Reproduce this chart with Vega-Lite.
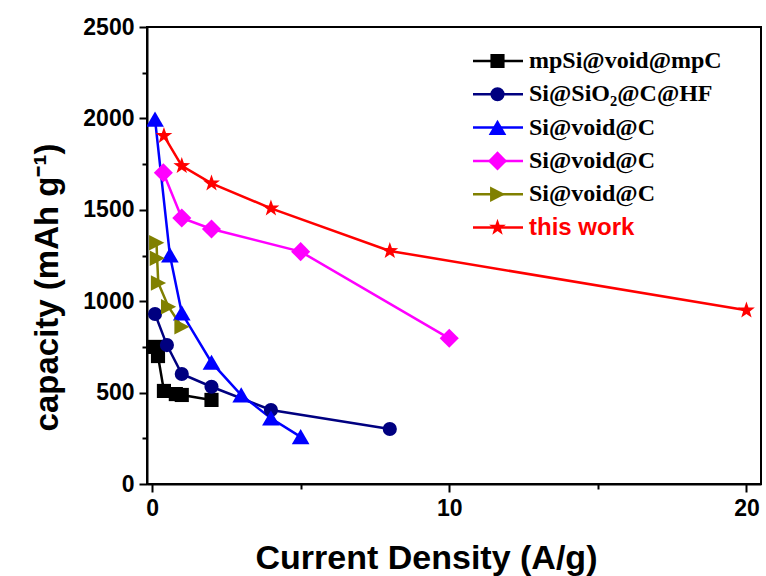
{
  "$schema": "https://vega.github.io/schema/vega-lite/v6.json",
  "width": 614,
  "height": 457,
  "autosize": {"type": "none"},
  "padding": {"left": 147, "top": 27, "right": 5, "bottom": 92},
  "background": "white",
  "config": {
    "view": {"stroke": "black", "strokeWidth": 2},
    "font": "Liberation Sans"
  },
  "data": {
    "values": [
      {"series": "1 \u00a0mpSi@void@mpC", "density": 0.1, "capacity": 750},
      {"series": "1 \u00a0mpSi@void@mpC", "density": 0.2, "capacity": 700},
      {"series": "1 \u00a0mpSi@void@mpC", "density": 0.4, "capacity": 509},
      {"series": "1 \u00a0mpSi@void@mpC", "density": 0.8, "capacity": 492},
      {"series": "1 \u00a0mpSi@void@mpC", "density": 1.0, "capacity": 487},
      {"series": "1 \u00a0mpSi@void@mpC", "density": 2.0, "capacity": 460},
      {"series": "2 Si@SiO₂@C@HF", "density": 0.1, "capacity": 930},
      {"series": "2 Si@SiO₂@C@HF", "density": 0.5, "capacity": 760},
      {"series": "2 Si@SiO₂@C@HF", "density": 1.0, "capacity": 602},
      {"series": "2 Si@SiO₂@C@HF", "density": 2.0, "capacity": 532},
      {"series": "2 Si@SiO₂@C@HF", "density": 4.0, "capacity": 405},
      {"series": "2 Si@SiO₂@C@HF", "density": 8.0, "capacity": 301},
      {"series": "3 Si@void@C", "density": 0.1, "capacity": 1995},
      {"series": "3 Si@void@C", "density": 0.6, "capacity": 1252},
      {"series": "3 Si@void@C", "density": 1.0, "capacity": 935},
      {"series": "3 Si@void@C", "density": 2.0, "capacity": 665},
      {"series": "3 Si@void@C", "density": 3.0, "capacity": 487},
      {"series": "3 Si@void@C", "density": 4.0, "capacity": 360},
      {"series": "3 Si@void@C", "density": 5.0, "capacity": 258},
      {"series": "4 Si@void@C", "density": 0.38, "capacity": 1703},
      {"series": "4 Si@void@C", "density": 1.0, "capacity": 1455},
      {"series": "4 Si@void@C", "density": 2.0, "capacity": 1395},
      {"series": "4 Si@void@C", "density": 5.0, "capacity": 1271},
      {"series": "4 Si@void@C", "density": 10.0, "capacity": 797},
      {"series": "5 Si@void@C", "density": 0.15, "capacity": 1320},
      {"series": "5 Si@void@C", "density": 0.17, "capacity": 1235},
      {"series": "5 Si@void@C", "density": 0.21, "capacity": 1100},
      {"series": "5 Si@void@C", "density": 0.55, "capacity": 970},
      {"series": "5 Si@void@C", "density": 1.0, "capacity": 860},
      {"series": "6 this work", "density": 0.4, "capacity": 1905},
      {"series": "6 this work", "density": 1.0, "capacity": 1740},
      {"series": "6 this work", "density": 2.0, "capacity": 1645},
      {"series": "6 this work", "density": 4.0, "capacity": 1508},
      {"series": "6 this work", "density": 8.0, "capacity": 1275},
      {"series": "6 this work", "density": 20.0, "capacity": 950}
    ]
  },
  "encoding": {
    "x": {
      "field": "density",
      "type": "quantitative",
      "scale": {"domain": [-0.17, 20.49], "nice": false, "zero": false},
      "axis": {
        "title": "Current Density (A/g)",
        "values": [0, 5, 10, 15, 20],
        "labelExpr": "datum.value % 10 == 0 ? datum.label : ''",
        "grid": false,
        "domainColor": "black",
        "domainWidth": 2,
        "tickColor": "black",
        "tickWidth": 2,
        "tickSize": {"condition": {"test": "datum.value % 10 != 0", "value": 5}, "value": 8},
        "labelFont": "Liberation Sans",
        "labelFontWeight": "bold",
        "labelFontSize": 23,
        "labelColor": "black",
        "labelPadding": 5,
        "labelFlush": false,
        "labelOverlap": false,
        "titleFont": "Liberation Sans",
        "titleFontWeight": "bold",
        "titleFontSize": 34,
        "titleColor": "black",
        "titleX": 279,
        "titleY": 84,
        "titleBaseline": "alphabetic"
      }
    },
    "y": {
      "field": "capacity",
      "type": "quantitative",
      "scale": {"domain": [0, 2500], "nice": false},
      "axis": {
        "title": "capacity (mAh g⁻¹)",
        "values": [0, 250, 500, 750, 1000, 1250, 1500, 1750, 2000, 2250, 2500],
        "labelExpr": "datum.value % 500 == 0 ? datum.label : ''",
        "format": "d",
        "grid": false,
        "domainColor": "black",
        "domainWidth": 2,
        "tickColor": "black",
        "tickWidth": 2,
        "tickSize": {"condition": {"test": "datum.value % 500 != 0", "value": 5}, "value": 8},
        "labelFont": "Liberation Sans",
        "labelFontWeight": "bold",
        "labelFontSize": 23,
        "labelColor": "black",
        "labelPadding": 5,
        "labelFlush": false,
        "labelOverlap": false,
        "titleFont": "Liberation Sans",
        "titleFontWeight": "bold",
        "titleFontSize": 33,
        "titleColor": "black",
        "titleX": -90,
        "titleY": 260,
        "titleBaseline": "alphabetic"
      }
    }
  },
  "layer": [
    {
      "mark": {"type": "line", "strokeWidth": 2.5, "clip": true},
      "encoding": {
        "stroke": {
          "field": "series",
          "type": "nominal",
          "scale": {
            "domain": ["1 \u00a0mpSi@void@mpC", "2 Si@SiO₂@C@HF", "3 Si@void@C", "4 Si@void@C", "5 Si@void@C", "6 this work"],
            "range": ["#000000", "#000080", "#0000FF", "#FF00FF", "#808000", "#FF0000"]
          },
          "legend": {
            "orient": "none",
            "legendX": 324.5,
            "legendY": 19,
            "title": null,
            "padding": 0,
            "symbolType": "stroke",
            "symbolSize": 2500,
            "symbolStrokeWidth": 2.5,
            "clipHeight": 30,
            "labelFontSize": 24,
            "labelExpr": "''",
            "rowPadding": 3.3
          }
        }
      }
    },
    {
      "mark": {"type": "point", "filled": true, "opacity": 1, "size": 200, "clip": true},
      "encoding": {
        "fill": {
          "field": "series",
          "type": "nominal",
          "scale": {"range": ["#000000", "#000080", "#0000FF", "#FF00FF", "#808000", "#FF0000"]},
          "legend": {
            "orient": "none",
            "legendX": 338.5,
            "legendY": 19,
            "title": null,
            "padding": 0,
            "symbolSize": 200,
            "symbolStrokeWidth": 0,
            "symbolOpacity": 1,
            "clipHeight": 30,
            "labelFontSize": 24,
            "labelFont": {"expr": "indexof(datum.label, 'this work') >= 0 ? 'Liberation Sans' : 'Liberation Serif'"},
            "labelColor": {"expr": "indexof(datum.label, 'this work') >= 0 ? '#FF0000' : '#000000'"},
            "labelFontWeight": "bold",
            "labelOffset": 19.5,
            "labelLimit": 400,
            "labelExpr": "slice(datum.label, 2)",
            "rowPadding": 3.3
          }
        },
        "shape": {
          "field": "series",
          "type": "nominal",
          "scale": {
            "range": [
              "square",
              "circle",
              "M0,-1.1L1.25,1.05L-1.25,1.05Z",
              "M0,-1.35L1.35,0L0,1.35L-1.35,0Z",
              "M1.1,0L-1.05,1.1L-1.05,-1.1Z",
              "M0,-1.25L0.2939,-0.4045L1.1888,-0.3863L0.4755,0.1545L0.7347,1.0113L0,0.5L-0.7347,1.0113L-0.4755,0.1545L-1.1888,-0.3863L-0.2939,-0.4045Z"
            ]
          },
          "legend": {
            "orient": "none",
            "legendX": 338.5,
            "legendY": 19,
            "title": null,
            "padding": 0,
            "symbolSize": 200,
            "symbolStrokeWidth": 0,
            "symbolOpacity": 1,
            "clipHeight": 30,
            "labelFontSize": 24,
            "labelFont": {"expr": "indexof(datum.label, 'this work') >= 0 ? 'Liberation Sans' : 'Liberation Serif'"},
            "labelColor": {"expr": "indexof(datum.label, 'this work') >= 0 ? '#FF0000' : '#000000'"},
            "labelFontWeight": "bold",
            "labelOffset": 19.5,
            "labelLimit": 400,
            "labelExpr": "slice(datum.label, 2)",
            "rowPadding": 3.3
          }
        }
      }
    }
  ]
}
